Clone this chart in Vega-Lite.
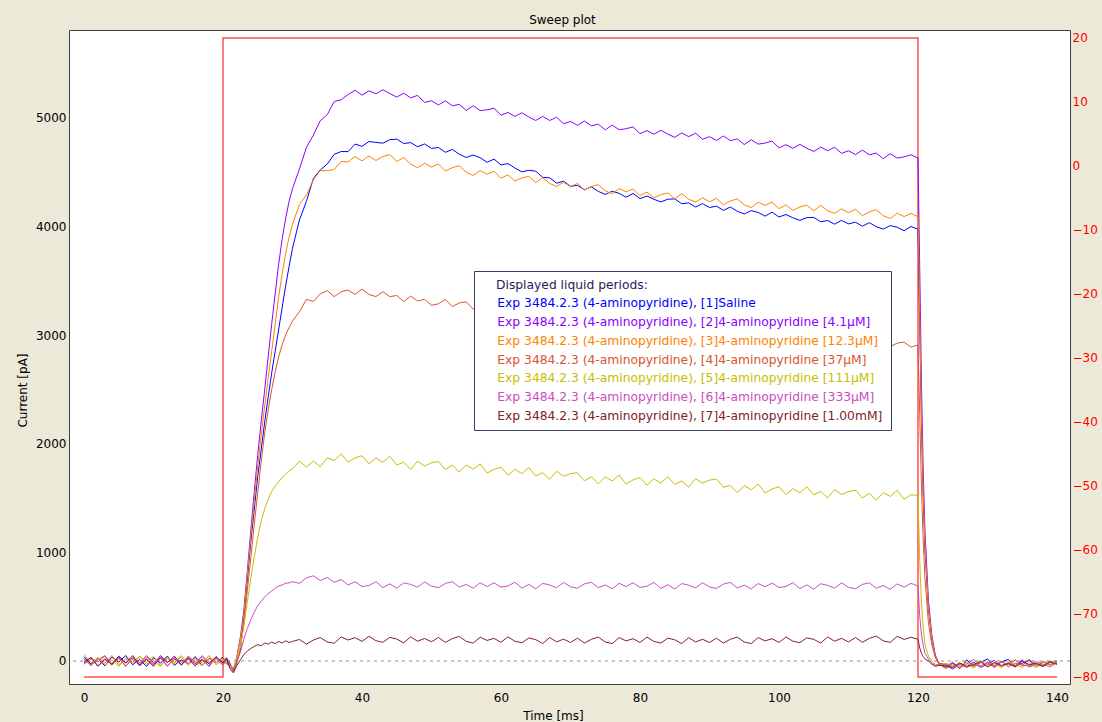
{
"$schema": "https://vega.github.io/schema/vega-lite/v6.json",
"width": 1001, "height": 654,
"autosize": "none",
"padding": {"left": 69, "top": 30, "right": 32, "bottom": 38},
"background": "#ECE9D8",
"config": {"view": {"fill": "white", "stroke": "#404040", "strokeWidth": 1}, "font": "DejaVu Sans"},
"title": {"text": "Sweep plot", "font": "DejaVu Sans", "fontSize": 12, "fontWeight": "normal", "color": "black", "anchor": "middle", "dx": -7, "offset": 3},
"datasets": {
"stim": [{"k":0,"t":0,"mv":-80},{"k":1,"t":20,"mv":-80},{"k":2,"t":20,"mv":20},{"k":3,"t":120,"mv":20},{"k":4,"t":120,"mv":-80},{"k":5,"t":140,"mv":-80}],
"traces": [
{"t":0,"a":40,"b":-20,"c":15,"d":-30,"e":60,"f":25,"g":-10},
{"t":1,"a":-30,"b":35,"c":-45,"d":20,"e":-15,"f":-40,"g":30},
{"t":2,"a":20,"b":-50,"c":30,"d":-10,"e":35,"f":10,"g":-45},
{"t":3,"a":-45,"b":15,"c":-20,"d":45,"e":-35,"f":50,"g":20},
{"t":4,"a":35,"b":-30,"c":50,"d":-40,"e":10,"f":-25,"g":-30},
{"t":5,"a":-10,"b":45,"c":-35,"d":25,"e":-50,"f":30,"g":40},
{"t":6,"a":50,"b":-15,"c":20,"d":-50,"e":25,"f":-45,"g":-20},
{"t":7,"a":-35,"b":30,"c":-10,"d":35,"e":-20,"f":15,"g":50},
{"t":8,"a":15,"b":-45,"c":45,"d":-20,"e":40,"f":-35,"g":-40},
{"t":9,"a":-50,"b":20,"c":-30,"d":50,"e":-10,"f":40,"g":15},
{"t":10,"a":30,"b":-35,"c":10,"d":-15,"e":45,"f":-20,"g":-50},
{"t":11,"a":-20,"b":50,"c":-50,"d":30,"e":-40,"f":25,"g":35},
{"t":12,"a":45,"b":-10,"c":35,"d":-45,"e":20,"f":-50,"g":-15},
{"t":13,"a":-40,"b":25,"c":-15,"d":15,"e":-30,"f":35,"g":45},
{"t":14,"a":10,"b":-40,"c":40,"d":-35,"e":50,"f":-10,"g":-35},
{"t":15,"a":-25,"b":35,"c":-40,"d":45,"e":-25,"f":20,"g":25},
{"t":16,"a":40,"b":-25,"c":25,"d":-10,"e":15,"f":-45,"g":-45},
{"t":17,"a":-45,"b":15,"c":-20,"d":40,"e":-45,"f":50,"g":10},
{"t":18,"a":25,"b":-50,"c":50,"d":-30,"e":30,"f":-15,"g":-25},
{"t":19,"a":-15,"b":40,"c":-35,"d":20,"e":-20,"f":30,"g":40},
{"t":20,"a":35,"b":-20,"c":15,"d":-40,"e":45,"f":-35,"g":-20},
{"t":20.5,"a":-20,"b":30,"c":-25,"d":15,"e":-30,"f":10,"g":25},
{"t":21,"a":-40,"b":-20,"c":-50,"d":-30,"e":-45,"f":-60,"g":-70},
{"t":21.5,"a":-80,"b":-90,"c":-70,"d":-100,"e":-60,"f":-80,"g":-110},
{"t":22,"a":0,"b":40,"c":30,"d":-20,"e":20,"f":-10,"g":-40},
{"t":22.5,"a":100,"b":220,"c":200,"d":120,"e":130,"f":80,"g":10},
{"t":23,"a":400,"b":470,"c":430,"d":350,"e":320,"f":200,"g":60},
{"t":23.5,"a":750,"b":830,"c":790,"d":650,"e":540,"f":300,"g":90},
{"t":24,"a":1100,"b":1200,"c":1150,"d":950,"e":760,"f":380,"g":115},
{"t":24.5,"a":1400,"b":1560,"c":1480,"d":1260,"e":960,"f":450,"g":135},
{"t":25,"a":1700,"b":1900,"c":1800,"d":1550,"e":1140,"f":510,"g":150},
{"t":25.5,"a":1950,"b":2210,"c":2080,"d":1840,"e":1290,"f":550,"g":140},
{"t":26,"a":2200,"b":2500,"c":2350,"d":2100,"e":1400,"f":590,"g":165},
{"t":26.5,"a":2430,"b":2800,"c":2600,"d":2310,"e":1490,"f":620,"g":155},
{"t":27,"a":2650,"b":3100,"c":2850,"d":2500,"e":1560,"f":645,"g":175},
{"t":27.5,"a":2850,"b":3380,"c":3100,"d":2660,"e":1610,"f":670,"g":160},
{"t":28,"a":3050,"b":3650,"c":3350,"d":2800,"e":1650,"f":690,"g":180},
{"t":28.5,"a":3250,"b":3880,"c":3560,"d":2910,"e":1690,"f":700,"g":165},
{"t":29,"a":3450,"b":4070,"c":3750,"d":3000,"e":1720,"f":715,"g":185},
{"t":29.5,"a":3630,"b":4230,"c":3900,"d":3070,"e":1750,"f":720,"g":170},
{"t":30,"a":3800,"b":4350,"c":4020,"d":3130,"e":1770,"f":730,"g":180},
{"t":31,"a":4062,"b":4530,"c":4205,"d":3215,"e":1840,"f":715,"g":198},
{"t":32,"a":4232,"b":4728,"c":4290,"d":3330,"e":1785,"f":765,"g":155},
{"t":33,"a":4442,"b":4842,"c":4430,"d":3310,"e":1840,"f":785,"g":193},
{"t":34,"a":4522,"b":4975,"c":4515,"d":3380,"e":1790,"f":740,"g":216},
{"t":35,"a":4576,"b":5030,"c":4515,"d":3410,"e":1870,"f":770,"g":175},
{"t":36,"a":4665,"b":5152,"c":4525,"d":3355,"e":1845,"f":725,"g":163},
{"t":37,"a":4691,"b":5168,"c":4600,"d":3400,"e":1907,"f":750,"g":221},
{"t":38,"a":4690,"b":5215,"c":4595,"d":3415,"e":1830,"f":700,"g":193},
{"t":39,"a":4760,"b":5255,"c":4645,"d":3375,"e":1870,"f":730,"g":215},
{"t":40,"a":4738,"b":5210,"c":4605,"d":3425,"e":1890,"f":685,"g":180},
{"t":41,"a":4783,"b":5250,"c":4650,"d":3375,"e":1815,"f":695,"g":227},
{"t":42,"a":4775,"b":5222,"c":4608,"d":3355,"e":1870,"f":730,"g":187},
{"t":43,"a":4768,"b":5260,"c":4645,"d":3400,"e":1830,"f":675,"g":172},
{"t":44,"a":4800,"b":5225,"c":4663,"d":3355,"e":1885,"f":710,"g":217},
{"t":45,"a":4805,"b":5192,"c":4600,"d":3365,"e":1805,"f":670,"g":202},
{"t":46,"a":4765,"b":5228,"c":4635,"d":3310,"e":1830,"f":720,"g":167},
{"t":47,"a":4773,"b":5185,"c":4575,"d":3360,"e":1765,"f":705,"g":222},
{"t":48,"a":4735,"b":5208,"c":4542,"d":3315,"e":1840,"f":680,"g":182},
{"t":49,"a":4761,"b":5143,"c":4583,"d":3330,"e":1795,"f":728,"g":207},
{"t":50,"a":4720,"b":5158,"c":4548,"d":3275,"e":1825,"f":688,"g":177},
{"t":51,"a":4728,"b":5120,"c":4576,"d":3289,"e":1836,"f":675,"g":217},
{"t":52,"a":4684,"b":5158,"c":4512,"d":3328,"e":1762,"f":715,"g":171},
{"t":53,"a":4710,"b":5112,"c":4543,"d":3263,"e":1803,"f":730,"g":206},
{"t":54,"a":4666,"b":5125,"c":4559,"d":3297,"e":1739,"f":680,"g":226},
{"t":55,"a":4636,"b":5070,"c":4500,"d":3306,"e":1805,"f":705,"g":180},
{"t":56,"a":4659,"b":5112,"c":4471,"d":3240,"e":1765,"f":670,"g":165},
{"t":57,"a":4634,"b":5068,"c":4517,"d":3274,"e":1815,"f":720,"g":219},
{"t":58,"a":4592,"b":5075,"c":4483,"d":3284,"e":1730,"f":685,"g":189},
{"t":59,"a":4621,"b":5090,"c":4509,"d":3238,"e":1765,"f":720,"g":208},
{"t":60,"a":4568,"b":5025,"c":4445,"d":3287,"e":1785,"f":680,"g":172},
{"t":61,"a":4580,"b":5051,"c":4476,"d":3236,"e":1710,"f":690,"g":222},
{"t":62,"a":4539,"b":5014,"c":4420,"d":3215,"e":1765,"f":725,"g":182},
{"t":63,"a":4504,"b":5048,"c":4448,"d":3265,"e":1725,"f":670,"g":167},
{"t":64,"a":4518,"b":5009,"c":4462,"d":3224,"e":1780,"f":705,"g":212},
{"t":65,"a":4510,"b":4977,"c":4405,"d":3238,"e":1705,"f":665,"g":196},
{"t":66,"a":4453,"b":5014,"c":4451,"d":3187,"e":1734,"f":715,"g":161},
{"t":67,"a":4449,"b":4977,"c":4397,"d":3236,"e":1673,"f":700,"g":216},
{"t":68,"a":4399,"b":5006,"c":4370,"d":3191,"e":1747,"f":675,"g":176},
{"t":69,"a":4418,"b":4947,"c":4407,"d":3210,"e":1701,"f":723,"g":201},
{"t":70,"a":4370,"b":4968,"c":4368,"d":3159,"e":1725,"f":683,"g":170},
{"t":71,"a":4380,"b":4932,"c":4398,"d":3173,"e":1734,"f":670,"g":210},
{"t":72,"a":4338,"b":4972,"c":4336,"d":3212,"e":1658,"f":710,"g":165},
{"t":73,"a":4366,"b":4928,"c":4369,"d":3147,"e":1697,"f":725,"g":200},
{"t":74,"a":4324,"b":4943,"c":4387,"d":3181,"e":1631,"f":675,"g":220},
{"t":75,"a":4296,"b":4890,"c":4330,"d":3190,"e":1695,"f":700,"g":175},
{"t":76,"a":4325,"b":4934,"c":4303,"d":3124,"e":1658,"f":665,"g":160},
{"t":77,"a":4306,"b":4892,"c":4351,"d":3158,"e":1711,"f":715,"g":215},
{"t":78,"a":4270,"b":4901,"c":4319,"d":3168,"e":1629,"f":685,"g":185},
{"t":79,"a":4305,"b":4918,"c":4347,"d":3122,"e":1667,"f":720,"g":205},
{"t":80,"a":4258,"b":4855,"c":4285,"d":3171,"e":1690,"f":678,"g":170},
{"t":81,"a":4281,"b":4884,"c":4318,"d":3120,"e":1618,"f":688,"g":220},
{"t":82,"a":4251,"b":4850,"c":4264,"d":3099,"e":1676,"f":723,"g":180},
{"t":83,"a":4227,"b":4887,"c":4294,"d":3149,"e":1639,"f":668,"g":165},
{"t":84,"a":4252,"b":4851,"c":4310,"d":3108,"e":1697,"f":703,"g":210},
{"t":85,"a":4255,"b":4822,"c":4255,"d":3122,"e":1625,"f":663,"g":195},
{"t":86,"a":4210,"b":4862,"c":4303,"d":3071,"e":1658,"f":713,"g":160},
{"t":87,"a":4218,"b":4828,"c":4251,"d":3120,"e":1601,"f":698,"g":215},
{"t":88,"a":4180,"b":4860,"c":4226,"d":3075,"e":1679,"f":673,"g":175},
{"t":89,"a":4211,"b":4804,"c":4265,"d":3094,"e":1637,"f":721,"g":200},
{"t":90,"a":4175,"b":4828,"c":4228,"d":3043,"e":1665,"f":681,"g":170},
{"t":91,"a":4188,"b":4793,"c":4260,"d":3057,"e":1676,"f":668,"g":210},
{"t":92,"a":4149,"b":4834,"c":4200,"d":3096,"e":1600,"f":708,"g":165},
{"t":93,"a":4180,"b":4791,"c":4235,"d":3031,"e":1615,"f":723,"g":200},
{"t":94,"a":4141,"b":4807,"c":4255,"d":3065,"e":1550,"f":673,"g":220},
{"t":95,"a":4116,"b":4755,"c":4200,"d":3074,"e":1615,"f":698,"g":175},
{"t":96,"a":4147,"b":4800,"c":4175,"d":3008,"e":1577,"f":663,"g":160},
{"t":97,"a":4130,"b":4759,"c":4225,"d":3042,"e":1629,"f":713,"g":215},
{"t":98,"a":4096,"b":4769,"c":4195,"d":3052,"e":1546,"f":683,"g":185},
{"t":99,"a":4133,"b":4787,"c":4225,"d":3006,"e":1583,"f":718,"g":205},
{"t":100,"a":4088,"b":4725,"c":4165,"d":3055,"e":1605,"f":676,"g":170},
{"t":101,"a":4111,"b":4754,"c":4200,"d":3004,"e":1531,"f":686,"g":221},
{"t":102,"a":4081,"b":4720,"c":4148,"d":2983,"e":1587,"f":721,"g":182},
{"t":103,"a":4057,"b":4757,"c":4180,"d":3033,"e":1548,"f":666,"g":168},
{"t":104,"a":4082,"b":4721,"c":4198,"d":2992,"e":1604,"f":701,"g":213},
{"t":105,"a":4085,"b":4692,"c":4145,"d":3006,"e":1530,"f":661,"g":199},
{"t":106,"a":4044,"b":4732,"c":4195,"d":2955,"e":1561,"f":711,"g":165},
{"t":107,"a":4056,"b":4698,"c":4145,"d":3004,"e":1502,"f":696,"g":221},
{"t":108,"a":4022,"b":4730,"c":4122,"d":2959,"e":1578,"f":671,"g":182},
{"t":109,"a":4057,"b":4674,"c":4163,"d":2978,"e":1534,"f":719,"g":208},
{"t":110,"a":4025,"b":4698,"c":4128,"d":2927,"e":1560,"f":678,"g":175},
{"t":111,"a":4040,"b":4663,"c":4160,"d":2941,"e":1573,"f":665,"g":216},
{"t":112,"a":4003,"b":4704,"c":4100,"d":2981,"e":1501,"f":705,"g":172},
{"t":113,"a":4036,"b":4661,"c":4135,"d":2915,"e":1544,"f":720,"g":208},
{"t":114,"a":3999,"b":4677,"c":4155,"d":2950,"e":1482,"f":670,"g":229},
{"t":115,"a":3976,"b":4625,"c":4100,"d":2960,"e":1550,"f":695,"g":185},
{"t":116,"a":4009,"b":4671,"c":4074,"d":2894,"e":1515,"f":660,"g":171},
{"t":117,"a":3994,"b":4631,"c":4123,"d":2927,"e":1570,"f":710,"g":227},
{"t":118,"a":3962,"b":4642,"c":4092,"d":2936,"e":1490,"f":680,"g":198},
{"t":119,"a":4001,"b":4661,"c":4121,"d":2890,"e":1530,"f":715,"g":219},
{"t":120,"a":3975,"b":4630,"c":4090,"d":2910,"e":1525,"f":690,"g":200},
{"t":120.25,"a":3100,"b":3610,"c":3190,"d":2270,"e":915,"f":415,"g":120},
{"t":120.5,"a":2190,"b":2550,"c":2250,"d":1600,"e":530,"f":240,"g":70},
{"t":120.75,"a":1510,"b":1760,"c":1550,"d":1105,"e":305,"f":140,"g":40},
{"t":121,"a":1030,"b":1200,"c":1060,"d":760,"e":150,"f":70,"g":20},
{"t":121.5,"a":480,"b":560,"c":490,"d":350,"e":45,"f":20,"g":0},
{"t":122,"a":200,"b":230,"c":200,"d":145,"e":0,"f":-20,"g":-30},
{"t":122.5,"a":40,"b":50,"c":40,"d":30,"e":-30,"f":-40,"g":-50},
{"t":123,"a":-30,"b":-20,"c":-30,"d":-20,"e":-40,"f":-30,"g":-40},
{"t":124,"a":-60,"b":-40,"c":-70,"d":-30,"e":-20,"f":-50,"g":-45},
{"t":125,"a":-20,"b":-75,"c":-35,"d":-55,"e":-45,"f":-10,"g":-60},
{"t":126,"a":-70,"b":-30,"c":-55,"d":-15,"e":-40,"f":-65,"g":-20},
{"t":127,"a":10,"b":-55,"c":-20,"d":-60,"e":-10,"f":-30,"g":-50},
{"t":128,"a":-45,"b":-10,"c":-65,"d":-25,"e":-55,"f":15,"g":-35},
{"t":129,"a":-15,"b":-60,"c":-10,"d":-50,"e":5,"f":-45,"g":-5},
{"t":130,"a":20,"b":-30,"c":-50,"d":-10,"e":-40,"f":-20,"g":-55},
{"t":131,"a":-55,"b":5,"c":-25,"d":-45,"e":-15,"f":-60,"g":-15},
{"t":132,"a":-10,"b":-50,"c":-60,"d":0,"e":-50,"f":-5,"g":-40},
{"t":133,"a":15,"b":-20,"c":-15,"d":-55,"e":-5,"f":-40,"g":-25},
{"t":134,"a":-50,"b":-45,"c":5,"d":-20,"e":-35,"f":10,"g":-55},
{"t":135,"a":-20,"b":10,"c":-45,"d":-40,"e":-60,"f":-35,"g":0},
{"t":136,"a":5,"b":-55,"c":-30,"d":15,"e":-15,"f":-50,"g":-35},
{"t":137,"a":-45,"b":-25,"c":-60,"d":-35,"e":-45,"f":-5,"g":-20},
{"t":138,"a":-5,"b":-40,"c":-10,"d":-50,"e":0,"f":-30,"g":-50},
{"t":139,"a":-35,"b":0,"c":-40,"d":-5,"e":-30,"f":-55,"g":-10},
{"t":140,"a":0,"b":-30,"c":-20,"d":-25,"e":-10,"f":-15,"g":-30}
]},
"layer": [
{
"data": {"name": "stim"},
"mark": {"type": "line", "color": "#FF3030", "strokeWidth": 1.5, "opacity": 0.85},
"encoding": {
"x": {"field": "t", "type": "quantitative", "scale": {"domain": [-2.16, 141.87], "nice": false, "zero": false},
"axis": {"title": "Time [ms]", "values": [0,20,40,60,80,100,120,140], "ticks": false, "domain": false, "grid": false, "labelFont": "DejaVu Sans", "labelFontSize": 12, "labelColor": "black", "labelPadding": 8, "titleFont": "DejaVu Sans", "titleFontSize": 12, "titleFontWeight": "normal", "titleColor": "black", "titleX": 484, "titleY": 26, "titleBaseline": "top"}},
"y": {"field": "mv", "type": "quantitative", "scale": {"domain": [-81.1, 21.25], "nice": false, "zero": false},
"axis": {"orient": "right", "title": null, "values": [-80,-70,-60,-50,-40,-30,-20,-10,0,10,20], "ticks": false, "domain": false, "grid": false, "labelFont": "DejaVu Sans", "labelFontSize": 12, "labelColor": "#FF0000", "labelPadding": 2}},
"order": {"field": "k", "type": "quantitative"}
}
},
{
"layer": [
{
"data": {"values": [{"z": 0}]},
"mark": {"type": "rule", "color": "#909090", "strokeWidth": 1, "strokeDash": [3, 4]},
"encoding": {"y": {"datum": 0}}
},
{
"data": {"name": "traces"},
"transform": [{"fold": ["a","b","c","d","e","f","g"], "as": ["series","current"]}],
"mark": {"type": "line", "strokeWidth": 1},
"encoding": {
"x": {"field": "t", "type": "quantitative", "scale": {"domain": [-2.16, 141.87], "nice": false, "zero": false},
"axis": {"title": "Time [ms]", "values": [0,20,40,60,80,100,120,140], "ticks": false, "domain": false, "grid": false, "labelFont": "DejaVu Sans", "labelFontSize": 12, "labelColor": "black", "labelPadding": 8, "titleFont": "DejaVu Sans", "titleFontSize": 12, "titleFontWeight": "normal", "titleColor": "black", "titleX": 484, "titleY": 26, "titleBaseline": "top"}},
"y": {"field": "current", "type": "quantitative", "scale": {"domain": [-212, 5810], "nice": false, "zero": false},
"axis": {"orient": "left", "title": "Current [pA]", "format": "d", "values": [0,1000,2000,3000,4000,5000], "ticks": false, "domain": false, "grid": false, "labelFont": "DejaVu Sans", "labelFontSize": 12, "labelColor": "black", "labelPadding": 3, "titleFont": "DejaVu Sans", "titleFontSize": 12, "titleFontWeight": "normal", "titleColor": "black", "titlePadding": 6, "titleY": 360}},
"color": {"field": "series", "type": "nominal",
"scale": {"domain": ["a","b","c","d","e","f","g"], "range": ["#0000FF","#8C00FF","#FF8200","#DA5530","#C8BE00","#CC4CC4","#82202E"]},
"legend": {"orient": "none", "legendX": 405, "legendY": 241,
"title": "Displayed liquid periods:",
"titleFont": "DejaVu Sans", "titleFontSize": 12.3, "titleFontWeight": "normal", "titleColor": "#1E1E5A", "titlePadding": 6,
"labelFont": "DejaVu Sans", "labelFontSize": 12.3, "labelLimit": 600, "labelOffset": 3,
"labelExpr": "['Exp 3484.2.3 (4-aminopyridine), [1]Saline','Exp 3484.2.3 (4-aminopyridine), [2]4-aminopyridine [4.1µM]','Exp 3484.2.3 (4-aminopyridine), [3]4-aminopyridine [12.3µM]','Exp 3484.2.3 (4-aminopyridine), [4]4-aminopyridine [37µM]','Exp 3484.2.3 (4-aminopyridine), [5]4-aminopyridine [111µM]','Exp 3484.2.3 (4-aminopyridine), [6]4-aminopyridine [333µM]','Exp 3484.2.3 (4-aminopyridine), [7]4-aminopyridine [1.00mM]'][indexof(['a','b','c','d','e','f','g'], datum.value)]",
"symbolSize": 0, "symbolOpacity": 0, "symbolStrokeWidth": 0,
"rowPadding": 5.7, "padding": 8,
"fillColor": "white", "strokeColor": "#3A3A6E",
"encode": {"labels": {"update": {"fill": {"scale": "color", "field": "value"}}}, "title": {"update": {"dx": {"value": 14}}}}
}}
}
}
]
}
],
"resolve": {"scale": {"y": "independent"}}
}
